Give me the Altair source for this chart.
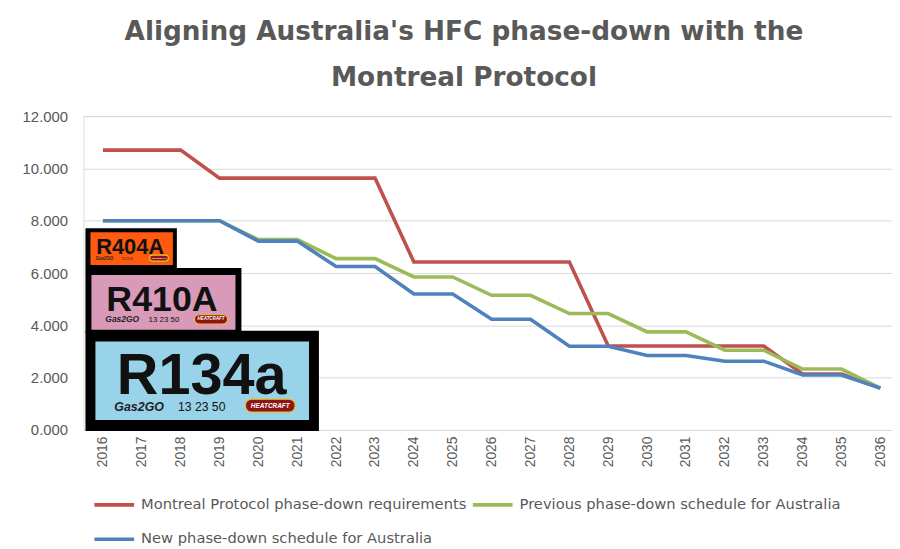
import altair as alt
import pandas as pd

# ---- data -----------------------------------------------------------------
years = list(range(2016, 2037))
series_names = [
    "Montreal Protocol phase-down requirements",
    "Previous phase-down schedule for Australia",
    "New phase-down schedule for Australia",
]
montreal = [10.70, 10.70, 10.70, 9.63, 9.63, 9.63, 9.63, 9.63, 6.42, 6.42, 6.42,
            6.42, 6.42, 3.21, 3.21, 3.21, 3.21, 3.21, 2.14, 2.14, 1.60]
previous = [8.00, 8.00, 8.00, 8.00, 7.28, 7.28, 6.55, 6.55, 5.85, 5.85, 5.15,
            5.15, 4.45, 4.45, 3.75, 3.75, 3.05, 3.05, 2.33, 2.33, 1.60]
new_sched = [8.00, 8.00, 8.00, 8.00, 7.22, 7.22, 6.25, 6.25, 5.20, 5.20, 4.23,
             4.23, 3.20, 3.20, 2.85, 2.85, 2.63, 2.63, 2.10, 2.10, 1.60]
y_ticks = [0, 2, 4, 6, 8, 10, 12]
series_colors = ["#C0504D", "#9BBB59", "#4F81BD"]

# refrigerant sticker overlay (in chart data units)
sticker_names = ["R404A", "R410A", "R134a"]
sticker_fill = ["#FF5A0E", "#D89AB8", "#99D3EA"]
frame_x = [2015.551, 2015.551, 2015.551]
frame_x2 = [2017.902, 2019.563, 2021.557]
frame_y = [7.710, 6.191, 3.798]
frame_y2 = [6.191, 3.722, -0.038]
panel_x = [2015.679, 2015.704, 2015.807]
panel_x2 = [2017.800, 2019.410, 2021.301]
panel_y = [7.558, 5.925, 3.380]
panel_y2 = [6.305, 3.836, 0.380]
name_x = [2016.700, 2017.519, 2018.541]
name_y = [6.741, 4.531, 1.367]
name_size = [22, 36, 58]
brand_x = [2016.037, 2016.497, 2016.931]
phone_x = [2016.624, 2017.570, 2018.541]
small_y = [6.494, 4.128, 0.722]
brand_size = [4.5, 8.5, 12.5]
phone_size = [2.8, 8.0, 12.3]
logo_x = [2017.199, 2018.355, 2019.666]
logo_x2 = [2017.685, 2019.206, 2020.944]
logo_y = [6.684, 4.406, 1.177]
logo_y2 = [6.457, 4.052, 0.684]
logo_size = [2.5, 4.5, 6.5]

# ---- tables ----------------------------------------------------------------
rows = []
for name, vals in zip(series_names, [montreal, previous, new_sched]):
    for yr, v in zip(years, vals):
        rows.append({"year": yr, "value": v, "series": name})
lines_df = pd.DataFrame(rows)

frames_df = pd.DataFrame({"x": frame_x, "x2": frame_x2, "y": frame_y, "y2": frame_y2,
                          "fill": ["#000000"] * 3})
panels_df = pd.DataFrame({"x": panel_x, "x2": panel_x2, "y": panel_y, "y2": panel_y2,
                          "fill": sticker_fill})
names_df = pd.DataFrame({"x": name_x, "y": name_y, "text": sticker_names, "size": name_size})
brand_df = pd.DataFrame({"x": brand_x, "y": small_y, "text": ["Gas2GO"] * 3, "size": brand_size})
phone_df = pd.DataFrame({"x": phone_x, "y": small_y, "text": ["13 23 50"] * 3, "size": phone_size})
logo_df = pd.DataFrame({"x": logo_x, "x2": logo_x2, "y": logo_y, "y2": logo_y2,
                        "xm": [(a + b) / 2 for a, b in zip(logo_x, logo_x2)],
                        "ym": [(a + b) / 2 for a, b in zip(logo_y, logo_y2)],
                        "text": ["HEATCRAFT"] * 3, "size": logo_size})

# ---- scales / axes -------------------------------------------------------------
GRAY = "#595959"
xs = alt.Scale(domain=[2015.5, 2036.3], nice=False, zero=False)
ys = alt.Scale(domain=[0, 12], nice=False, zero=True)
x_axis = alt.Axis(values=years, format="d", labelAngle=270, title=None, grid=False,
                  ticks=False, domainColor="#D9D9D9", domainWidth=1,
                  labelFont="Liberation Sans", labelFontSize=14, labelColor=GRAY,
                  labelPadding=6, labelBaseline="middle", labelAlign="right")
y_axis = alt.Axis(values=y_ticks, format=".3f", title=None, grid=True, gridColor="#D9D9D9",
                  gridWidth=1, ticks=False, domain=False, labelFont="Liberation Sans",
                  labelFontSize=15, labelColor=GRAY, labelPadding=16)


def X(f):
    return alt.X(f, type="quantitative", scale=xs, axis=x_axis)


def Y(f):
    return alt.Y(f, type="quantitative", scale=ys, axis=y_axis)


lines = alt.Chart(lines_df).mark_line(strokeWidth=3.6).encode(
    x=X("year"),
    y=Y("value"),
    color=alt.Color("series:N", sort=series_names,
                    scale=alt.Scale(domain=series_names, range=series_colors),
                    legend=alt.Legend(orient="none", legendX=9, legendY=369, columns=2,
                                      direction="horizontal",
                                      title=None, symbolType="stroke", symbolSize=1600,
                                      symbolStrokeWidth=3.6, labelFont="DejaVu Sans",
                                      labelFontSize=14.8, labelColor=GRAY, labelOffset=5,
                                      columnPadding=-2, rowPadding=5, labelLimit=0)),
)

frames = alt.Chart(frames_df).mark_rect().encode(
    x=X("x"), x2="x2", y=Y("y"), y2="y2", fill=alt.Fill("fill:N", scale=None))
panels = alt.Chart(panels_df).mark_rect().encode(
    x=X("x"), x2="x2", y=Y("y"), y2="y2", fill=alt.Fill("fill:N", scale=None))
names = alt.Chart(names_df).mark_text(font="Liberation Sans", fontWeight="bold",
                                      color="#111111", baseline="alphabetic",
                                      align="center").encode(
    x=X("x"), y=Y("y"), text="text:N", size=alt.Size("size:Q", scale=None))
brand = alt.Chart(brand_df).mark_text(font="Liberation Sans", fontWeight="bold",
                                      fontStyle="italic", color="#222222",
                                      baseline="alphabetic", align="center").encode(
    x=X("x"), y=Y("y"), text="text:N", size=alt.Size("size:Q", scale=None))
phone = alt.Chart(phone_df).mark_text(font="Liberation Sans", color="#111111",
                                      baseline="alphabetic", align="center").encode(
    x=X("x"), y=Y("y"), text="text:N", size=alt.Size("size:Q", scale=None))
logos = alt.Chart(logo_df).mark_rect(cornerRadius=6, stroke="#E8C22A", strokeWidth=1.2,
                                     fill="#8E1416").encode(
    x=X("x"), x2="x2", y=Y("y"), y2="y2")
logo_txt = alt.Chart(logo_df).mark_text(font="Liberation Sans", fontWeight="bold",
                                        fontStyle="italic", color="#FFFFFF",
                                        baseline="middle", align="center").encode(
    x=X("xm"), y=Y("ym"), text="text:N", size=alt.Size("size:Q", scale=None))

chart = alt.layer(lines, frames, panels, names, brand, phone, logos, logo_txt).properties(
    width=814,
    height=316,
    padding={"left": 76, "top": 107, "right": 0, "bottom": 118},
    autosize=alt.AutoSizeParams(type="none"),
    title=alt.TitleParams(
        text=["Aligning Australia's HFC phase-down with the", "Montreal Protocol"],
        anchor="middle", frame="group", dx=-24, offset=18, font="DejaVu Sans",
        fontSize=26.5, fontWeight="bold", color=GRAY, lineHeight=46),
).configure_view(stroke=None).configure(background="#FFFFFF")

chart.save("out.html", embed_options={"renderer": "svg", "actions": False})
